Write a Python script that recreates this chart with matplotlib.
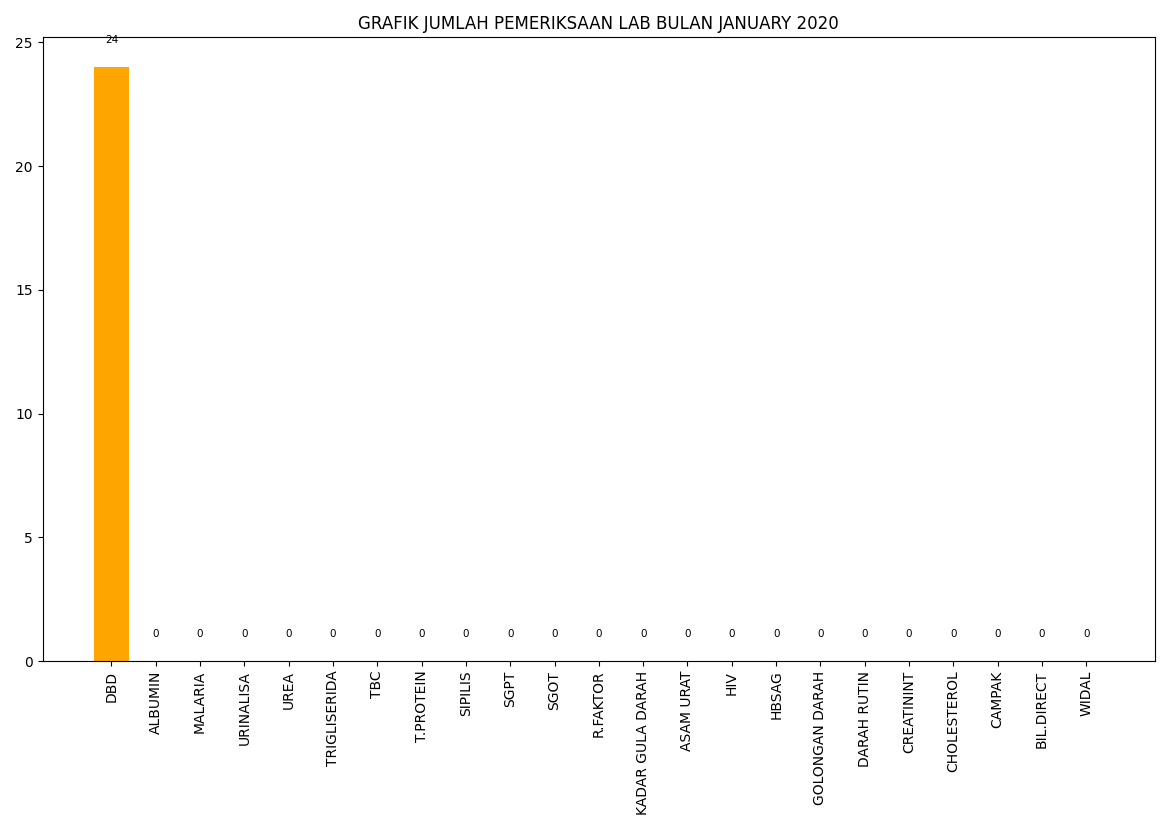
import matplotlib
matplotlib.use('Agg')
import matplotlib.pyplot as plt

# Data pemeriksaan lab
pemeriksaan = ['DBD', 'ALBUMIN', 'MALARIA', 'URINALISA', 'UREA', 'TRIGLISERIDA',
               'TBC', 'T.PROTEIN', 'SIPILIS', 'SGPT', 'SGOT', 'R.FAKTOR',
               'KADAR GULA DARAH', 'ASAM URAT', 'HIV', 'HBSAG', 'GOLONGAN DARAH',
               'DARAH RUTIN', 'CREATININT', 'CHOLESTEROL', 'CAMPAK', 'BIL.DIRECT',
               'WIDAL']
jumlah = [24, 0, 0, 0, 0, 0, 0, 0, 0, 0, 0, 0, 0, 0, 0, 0, 0, 0, 0, 0, 0, 0, 0]

fig = plt.figure(figsize=(11.7, 8.3), dpi=100)
ax = fig.add_axes([0.0365, 0.2036, 0.9507, 0.7514])

x = list(range(len(pemeriksaan)))
ax.bar(x, jumlah, width=0.78, color='orange')

# Label angka di atas bar
for i, v in zip(x, jumlah):
    ax.text(i, v + 0.9, str(v), ha='center', va='bottom', fontsize=7.5)

ax.set_xticks(x)
ax.set_xticklabels(pemeriksaan, rotation=90)
ax.set_xlim(-1.55, len(pemeriksaan) - 1 + 1.55)
ax.set_ylim(0, 25.2)
ax.set_title('GRAFIK JUMLAH PEMERIKSAAN LAB BULAN JANUARY 2020')

fig.savefig('out.png', dpi=100)
